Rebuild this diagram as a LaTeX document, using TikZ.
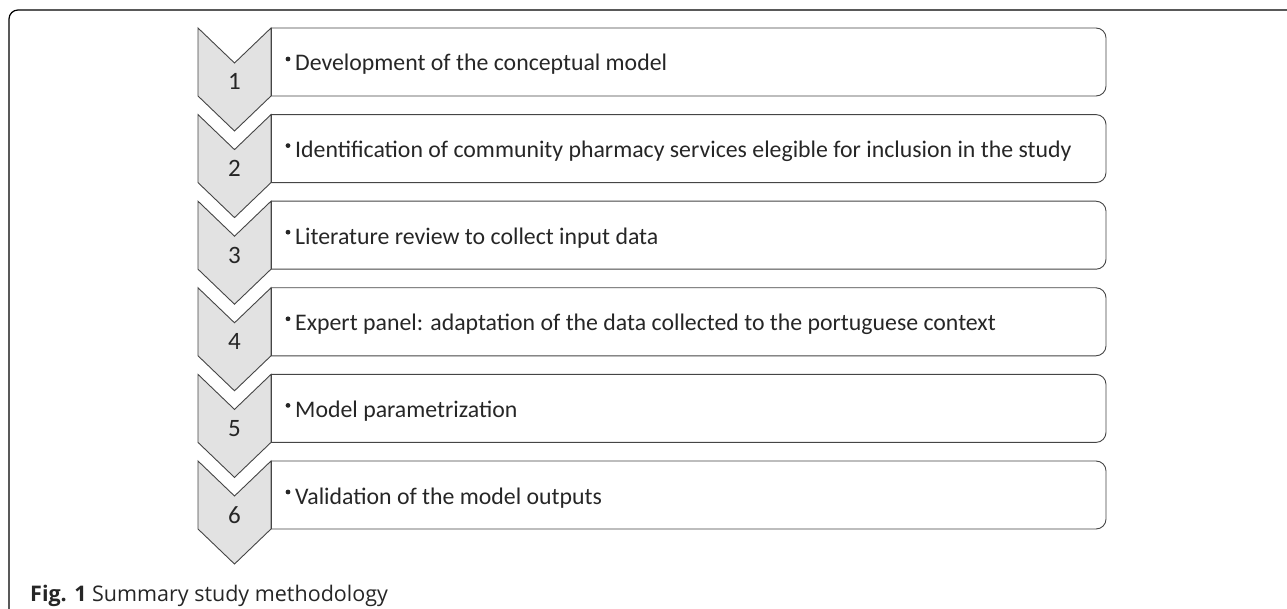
\documentclass[tikz,border=0pt]{standalone}
\usepackage{fontspec}
\setmainfont{Carlito}
\newfontfamily\capfont{Open Sans}
\definecolor{chevfill}{HTML}{E2E2E2}
\definecolor{edge}{HTML}{454545}
\begin{document}
\begin{tikzpicture}[x=1pt,y=-1pt,
  chevron/.style={fill=chevfill,draw=edge,line width=0.9pt,line join=miter},
  stepbox/.style={draw=edge,line width=0.9pt},
  steptext/.style={anchor=base west,inner sep=0pt,font=\fontsize{23.8}{26}\selectfont,text=black!85},
  numtext/.style={anchor=base,inner sep=0pt,font=\fontsize{25}{28}\selectfont,text=black!85},
  captext/.style={anchor=base west,inner sep=0pt,font=\capfont\fontsize{21.5}{24}\selectfont,text=black!85}]
\useasboundingbox (0,0) rectangle (1287,609);
% outer frame: top edge and left edge only
\draw[line width=1.2pt,rounded corners=9pt] (1287,10) -- (9,10) -- (9,612);
% the six steps
\foreach \i/\txt in {
  1/Development of the conceptual model,
  2/Identification of community pharmacy services elegible for inclusion in the study,
  3/Literature review to collect input data,
  4/Expert panel: adaptation of the data collected to the portuguese context,
  5/Model parametrization,
  6/Validation of the model outputs}{
  \pgfmathsetmacro\t{28+(\i-1)*86.6}
  \pgfmathsetmacro\b{\t+68}
  \draw[chevron] (198,\t) -- (234.5,\t+35) -- (271,\t) -- (271,\b) -- (234.5,\b+35) -- (198,\b) -- cycle;
  \node[numtext] (n\i) at (234.5,\t+62) {\i};
  \draw[stepbox,rounded corners=10pt] (271,\t) -- (1106,\t) -- (1106,\b) -- (271,\b);
  \draw[stepbox] (271,\b) -- (271,\t);
  \fill[black!85] (288,\t+31) circle (2.4pt);
  \node[steptext] (s\i) at (295,\t+43) {\txt};
}
\node[captext] (cap) at (30,601) {\textbf{Fig. 1} Summary study methodology};
\end{tikzpicture}
\end{document}
